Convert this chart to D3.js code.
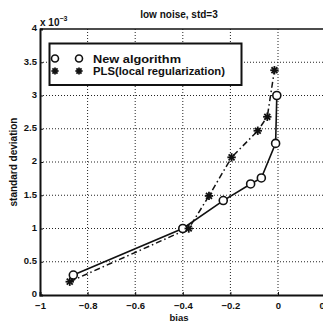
<!DOCTYPE html>
<html>
<head>
<meta charset="utf-8" />
<title>low noise, std=3</title>
<script src="https://d3js.org/d3.v7.min.js"></script>
<style>
  body { margin: 0; background: #fff; }
  text { font-family: "Liberation Sans", Arial, sans-serif; font-weight: bold; fill: #111; }
</style>
</head>
<body>
<svg></svg>
<script>
// values in units of 1e-3 for std
const newBias = [-0.86, -0.40, -0.23, -0.115, -0.07, -0.01, -0.005]
const newStd  = [0.30, 1.00, 1.42, 1.67, 1.76, 2.28, 3.00]
const plsBias = [-0.875, -0.375, -0.29, -0.195, -0.085, -0.045, -0.015]
const plsStd  = [0.20, 1.00, 1.49, 2.07, 2.47, 2.68, 3.38]
const xTicks = [-1, -0.8, -0.6, -0.4, -0.2, 0, 0.2]
const yTicks = [0, 0.5, 1, 1.5, 2, 2.5, 3, 3.5, 4]
const legendLabels = ['New algorithm', 'PLS(local regularization)']

const W = 323, H = 322
const mLeft = 40, mTop = 29, mBottom = 295

const svg = d3.select('svg').attr('width', W).attr('height', H)

const x = d3.scaleLinear().domain([-1, 0.2]).range([mLeft, mLeft + 1.2 * 238])
const y = d3.scaleLinear().domain([0, 4]).range([mBottom, mTop])

// grid
svg.append('g').selectAll('line')
  .data(xTicks.slice(1, -1))
  .enter().append('line')
  .attr('x1', d => x(d)).attr('x2', d => x(d))
  .attr('y1', mTop).attr('y2', mBottom)
  .attr('stroke', '#222').attr('stroke-width', 1).attr('stroke-dasharray', '1,2')

svg.append('g').selectAll('line')
  .data(yTicks.slice(1, -1))
  .enter().append('line')
  .attr('x1', mLeft).attr('x2', x(0.2))
  .attr('y1', d => y(d)).attr('y2', d => y(d))
  .attr('stroke', '#222').attr('stroke-width', 1).attr('stroke-dasharray', '1,2')

// axes
const xAxis = svg.append('g')
  .attr('transform', `translate(0,${mBottom})`)
  .call(d3.axisBottom(x).tickValues(xTicks).tickSize(-3).tickPadding(7)
    .tickFormat(d => d === 0 ? '0' : (d === -1 ? '\u22121' : d3.format('.1f')(d).replace('-', '\u2212'))))
const yAxis = svg.append('g')
  .attr('transform', `translate(${mLeft},0)`)
  .call(d3.axisLeft(y).tickValues(yTicks).tickSize(-3).tickPadding(3)
    .tickFormat(d => d % 1 === 0 ? d : d3.format('.1f')(d)))

;[xAxis, yAxis].forEach(a => {
  a.selectAll('path').attr('stroke', '#111').attr('stroke-width', 2)
  a.selectAll('line').attr('stroke', '#111')
  a.selectAll('text').attr('font-size', 9.5).style('font-weight', 'bold').attr('fill', '#111')
})
yAxis.selectAll('text').attr('dy', '0.2em')

// top frame
svg.append('line')
  .attr('x1', mLeft).attr('x2', W).attr('y1', mTop).attr('y2', mTop)
  .attr('stroke', '#111').attr('stroke-width', 1.5)

// lines
const newPts = newBias.map((b, i) => [b, newStd[i]])
const plsPts = plsBias.map((b, i) => [b, plsStd[i]])
const line = d3.line().x(d => x(d[0])).y(d => y(d[1]))

svg.append('path').datum(newPts).attr('d', line)
  .attr('fill', 'none').attr('stroke', '#111').attr('stroke-width', 1.6)
svg.append('path').datum(plsPts).attr('d', line)
  .attr('fill', 'none').attr('stroke', '#111').attr('stroke-width', 1.5)
  .attr('stroke-dasharray', '6,3,1.5,3')

function star(g, cx, cy, r) {
  for (let k = 0; k < 4; k++) {
    const a = k * Math.PI / 4
    g.append('line')
      .attr('x1', cx - r * Math.cos(a)).attr('y1', cy - r * Math.sin(a))
      .attr('x2', cx + r * Math.cos(a)).attr('y2', cy + r * Math.sin(a))
      .attr('stroke', '#111').attr('stroke-width', 1.8)
  }
}

svg.append('g').selectAll('circle')
  .data(newPts).enter().append('circle')
  .attr('cx', d => x(d[0])).attr('cy', d => y(d[1])).attr('r', 4)
  .attr('fill', '#fff').attr('stroke', '#111').attr('stroke-width', 1.6)

const starG = svg.append('g')
plsPts.forEach(d => star(starG, x(d[0]), y(d[1]), 4.2))

// legend
svg.append('rect')
  .attr('x', 49.5).attr('y', 43.5).attr('width', 192).attr('height', 41.5)
  .attr('fill', '#fff').attr('stroke', '#111').attr('stroke-width', 2)

const legY = [58.5, 71]
svg.append('circle').attr('cx', 55).attr('cy', legY[0]).attr('r', 3.5)
  .attr('fill', 'none').attr('stroke', '#111').attr('stroke-width', 1.6)
svg.append('circle').attr('cx', 79).attr('cy', legY[0]).attr('r', 3.5)
  .attr('fill', 'none').attr('stroke', '#111').attr('stroke-width', 1.6)
star(svg, 55, legY[1], 3.6)
star(svg, 79, legY[1], 3.6)

svg.selectAll('.leg').data(legendLabels).enter().append('text')
  .attr('x', 93).attr('y', (d, i) => legY[i] + 4)
  .attr('font-size', 11)
  .attr('textLength', (d, i) => i === 0 ? 88 : 132)
  .attr('lengthAdjust', 'spacingAndGlyphs')
  .text(d => d)

// titles
svg.append('text').attr('x', 179).attr('y', 18).attr('text-anchor', 'middle')
  .attr('font-size', 10).text('low noise, std=3')
svg.append('text').attr('x', 179).attr('y', 321).attr('text-anchor', 'middle')
  .attr('font-size', 9.5).text('bias')
svg.append('text').attr('transform', 'translate(17,162) rotate(-90)')
  .attr('text-anchor', 'middle').attr('font-size', 10).text('standard deviation')
const mult = svg.append('text').attr('x', 40).attr('y', 26).attr('font-size', 10)
mult.append('tspan').text('x 10')
mult.append('tspan').attr('dy', -5).attr('font-size', 7).text('\u22123')
</script>
</body>
</html>
